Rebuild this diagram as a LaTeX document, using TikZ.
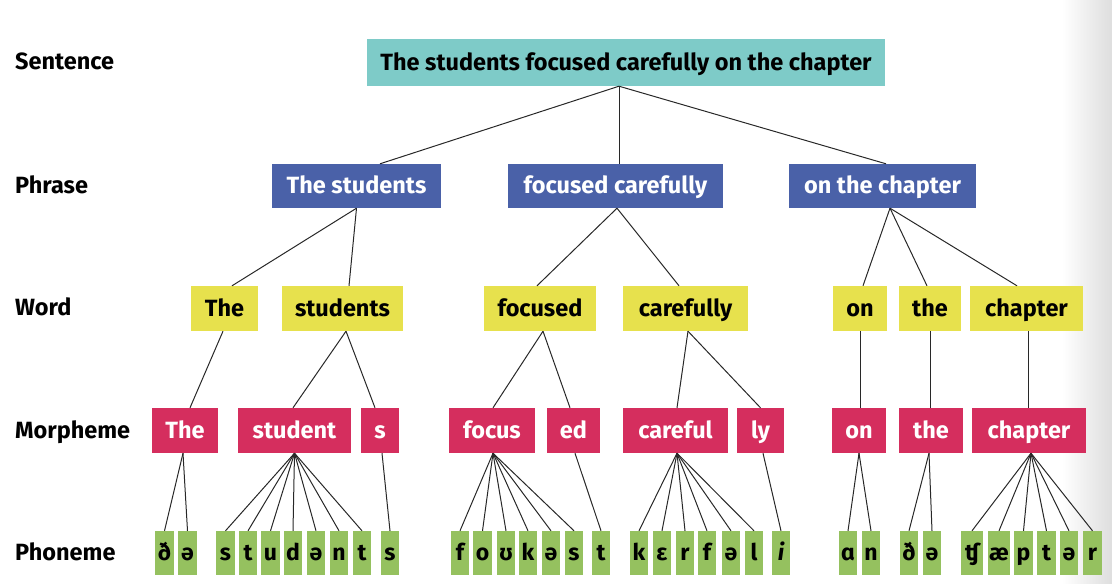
\documentclass[tikz,border=0pt]{standalone}
\usepackage{fontspec}
\setmainfont{Fira Sans}
\newfontfamily\ipafont{Fira Sans}
\definecolor{cTeal}{RGB}{126,203,200}
\definecolor{cBlue}{RGB}{74,97,168}
\definecolor{cYellow}{RGB}{231,225,77}
\definecolor{cPink}{RGB}{213,46,94}
\definecolor{cGreen}{RGB}{149,193,95}
\definecolor{cLine}{RGB}{40,40,40}
\begin{document}
\begin{tikzpicture}[x=1pt,y=-1pt,
  bx/.style={inner sep=0pt, text height=17pt, text depth=2pt, font=\bfseries\fontsize{23.5}{26}\selectfont},
  sentbox/.style={bx, fill=cTeal, text=black, minimum height=47},
  phrbox/.style={bx, fill=cBlue, text=white, minimum height=44},
  wordbox/.style={bx, fill=cYellow, text=black, minimum height=45},
  morbox/.style={bx, fill=cPink, text=white, minimum height=45},
  phobox/.style={inner sep=0pt, fill=cGreen, text=black, minimum height=44, minimum width=18.5,
     text height=17pt, text depth=2pt, font=\ipafont\bfseries\fontsize{23}{26}\selectfont},
  lvl/.style={anchor=west, inner sep=0pt, text height=17pt, text depth=2pt, font=\bfseries\fontsize{23.5}{26}\selectfont},
  conn/.style={draw=cLine, line width=1pt}]
\useasboundingbox (0,0) rectangle (1112,584);
\shade[left color=white, right color=black!13] (1062,0) rectangle (1112,584);

% level labels
\node[lvl] (lS) at (15,62) {Sentence};
\node[lvl] (lP) at (15,186) {Phrase};
\node[lvl] (lW) at (15,308) {Word};
\node[lvl] (lM) at (15,431) {Morpheme};
\node[lvl] (lF) at (15,553) {Phoneme};

% sentence
\node[sentbox, minimum width=518] (S) at (626,62.5) {The students focused carefully on the chapter};

% phrases
\node[phrbox, minimum width=169] (P1) at (356.5,186) {The students};
\node[phrbox, minimum width=215] (P2) at (615.5,186) {focused carefully};
\node[phrbox, minimum width=187] (P3) at (882.5,186) {on the chapter};

% words
\node[wordbox, minimum width=67]  (W1) at (224.5,308.5) {The};
\node[wordbox, minimum width=121] (W2) at (342.5,308.5) {students};
\node[wordbox, minimum width=112] (W3) at (540,308.5) {focused};
\node[wordbox, minimum width=125] (W4) at (685.5,308.5) {carefully};
\node[wordbox, minimum width=54]  (W5) at (860,308.5) {on};
\node[wordbox, minimum width=62]  (W6) at (930,308.5) {the};
\node[wordbox, minimum width=113] (W7) at (1026.5,308.5) {chapter};

% morphemes
\node[morbox, minimum width=66]  (M1) at (185,430.5) {The};
\node[morbox, minimum width=113] (M2) at (294.5,430.5) {student};
\node[morbox, minimum width=38]  (M3) at (380,430.5) {s};
\node[morbox, minimum width=86]  (M4) at (492,430.5) {focus};
\node[morbox, minimum width=53]  (M5) at (573.5,430.5) {ed};
\node[morbox, minimum width=105] (M6) at (675.5,430.5) {careful};
\node[morbox, minimum width=47]  (M7) at (760.5,430.5) {ly};
\node[morbox, minimum width=54]  (M8) at (859,430.5) {on};
\node[morbox, minimum width=64]  (M9) at (931,430.5) {the};
\node[morbox, minimum width=114] (M10) at (1029,430.5) {chapter};

% phonemes
\node[phobox] (a1) at (164.5,553) {ð};
\node[phobox] (a2) at (187.5,553) {ə};
\node[phobox] (b1) at (225.5,553) {s};
\node[phobox] (b2) at (248,553) {t};
\node[phobox] (b3) at (270.5,553) {u};
\node[phobox] (b4) at (293,553) {d};
\node[phobox] (b5) at (316,553) {ə};
\node[phobox] (b6) at (339,553) {n};
\node[phobox] (b7) at (362,553) {t};
\node[phobox] (c1) at (390,553) {s};
\node[phobox] (d1) at (460,553) {f};
\node[phobox] (d2) at (482.5,553) {o};
\node[phobox] (d3) at (506,553) {ʊ};
\node[phobox] (d4) at (528,553) {k};
\node[phobox] (d5) at (551,553) {ə};
\node[phobox] (d6) at (574,553) {s};
\node[phobox] (e1) at (601,553) {t};
\node[phobox] (f1) at (639,553) {k};
\node[phobox] (f2) at (662,553) {ɛ};
\node[phobox] (f3) at (685,553) {r};
\node[phobox] (f4) at (707,553) {f};
\node[phobox] (f5) at (731,553) {ə};
\node[phobox] (f6) at (754,553) {l};
\node[phobox] (g1) at (781,553) {\itshape i};
\node[phobox] (h1) at (848,553) {ɑ};
\node[phobox] (h2) at (871,553) {n};
\node[phobox] (i1) at (909,553) {ð};
\node[phobox] (i2) at (932,553) {ə};
\node[phobox, minimum width=22] (j1) at (972,553) {ʧ};
\node[phobox, minimum width=22] (j2) at (999,553) {æ};
\node[phobox] (j3) at (1023.5,553) {p};
\node[phobox] (j4) at (1046.5,553) {t};
\node[phobox] (j5) at (1069,553) {ə};
\node[phobox] (j6) at (1092.5,553) {r};

% sentence -> phrases
\foreach \p/\dx in {P1/23.5, P2/3.5, P3/3.5}
  \draw[conn] ([xshift=-7pt]S.south) -- ([xshift=\dx pt]\p.north);
% phrases -> words
\draw[conn] (P1.south) -- ([xshift=7.5pt]W1.north);
\draw[conn] (P1.south) -- ([xshift=6.5pt]W2.north);
\draw[conn] ([xshift=1.5pt]P2.south) -- ([xshift=-3pt]W3.north);
\draw[conn] ([xshift=1.5pt]P2.south) -- ([xshift=-6.5pt]W4.north);
\draw[conn] ([xshift=7.5pt]P3.south) -- ([xshift=3pt]W5.north);
\draw[conn] ([xshift=7.5pt]P3.south) -- ([xshift=-3pt]W6.north);
\draw[conn] ([xshift=7.5pt]P3.south) -- ([xshift=-9.5pt]W7.north);
% words -> morphemes
\draw[conn] ([xshift=-1.5pt]W1.south) -- ([xshift=5pt]M1.north);
\draw[conn] ([xshift=3.5pt]W2.south) -- ([xshift=-1.5pt]M2.north);
\draw[conn] ([xshift=3.5pt]W2.south) -- ([xshift=-5pt]M3.north);
\draw[conn] ([xshift=3pt]W3.south) -- ([xshift=1pt]M4.north);
\draw[conn] ([xshift=3pt]W3.south) -- ([xshift=-3.5pt]M5.north);
\draw[conn] ([xshift=2.5pt]W4.south) -- ([xshift=1.5pt]M6.north);
\draw[conn] ([xshift=2.5pt]W4.south) -- (M7.north);
\draw[conn] (W5.south) -- ([xshift=1pt]M8.north);
\draw[conn] (W6.south) -- ([xshift=-1pt]M9.north);
\draw[conn] ([xshift=1.5pt]W7.south) -- ([xshift=-1pt]M10.north);
% morphemes -> phonemes
\foreach \q in {a1,a2} \draw[conn] ([xshift=-2pt]M1.south) -- (\q.north);
\foreach \q in {b1,b2,b3,b4,b5,b6,b7} \draw[conn] (M2.south) -- (\q.north);
\draw[conn] ([xshift=2pt]M3.south) -- (c1.north);
\foreach \q in {d1,d2,d3,d4,d5,d6} \draw[conn] ([xshift=1pt]M4.south) -- (\q.north);
\draw[conn] ([xshift=1.5pt]M5.south) -- (e1.north);
\foreach \q in {f1,f2,f3,f4,f5,f6} \draw[conn] ([xshift=1.5pt]M6.south) -- (\q.north);
\draw[conn] ([xshift=2.5pt]M7.south) -- (g1.north);
\foreach \q in {h1,h2} \draw[conn] (M8.south) -- (\q.north);
\foreach \q in {i1,i2} \draw[conn] ([xshift=-2pt]M9.south) -- (\q.north);
\foreach \q in {j1,j2,j3,j4,j5,j6} \draw[conn] ([xshift=2pt]M10.south) -- (\q.north);
\end{tikzpicture}
\end{document}
